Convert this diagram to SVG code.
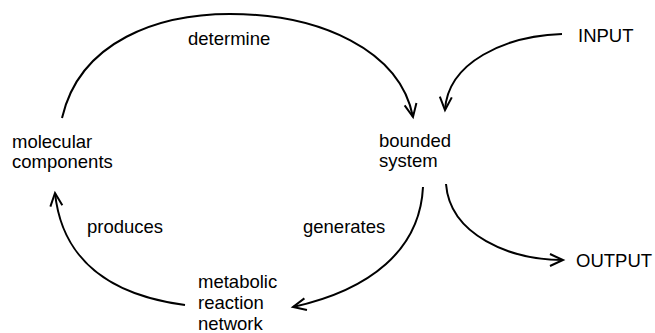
<svg xmlns="http://www.w3.org/2000/svg" width="655" height="333" viewBox="0 0 655 333">
<style>
text{font-family:"Liberation Sans",Arial,sans-serif;font-size:18.5px;fill:#000}
.c{fill:none;stroke:#000;stroke-width:2;marker-end:url(#ah)}
</style>
<defs>
<marker id="ah" markerUnits="userSpaceOnUse" markerWidth="30" markerHeight="30" viewBox="-15 -15 30 30" refX="0" refY="0" orient="auto">
<path d="M-13,-6 L0,0 L-13,6" fill="none" stroke="#000" stroke-width="2"/>
</marker>
</defs>
<rect width="655" height="333" fill="#fff"/>
<g id="connectors">
<path class="c" d="M62,118 C80,40 160,14 230,14 C320,14 400,50 413,117"/>
<path class="c" d="M562,34 C505,36 448,62 445,110"/>
<path class="c" d="M423,187 C420,250 370,290 293,307"/>
<path class="c" d="M185,305 C110,295 62,260 55,193"/>
<path class="c" d="M446,184 C450,235 510,260 563,260"/>
</g>
<g id="labels">
<text x="188" y="45">determine</text>
<text x="87" y="233">produces</text>
<text x="303" y="233">generates</text>
</g>
<g id="molecular-components"><text x="12" y="148">molecular</text><text x="12" y="168">components</text></g>
<g id="bounded-system"><text x="379" y="147">bounded</text><text x="379" y="167">system</text></g>
<g id="metabolic-network"><text x="198" y="288">metabolic</text><text x="198" y="309">reaction</text><text x="198" y="330">network</text></g>
<g id="input"><text x="578" y="42">INPUT</text></g>
<g id="output"><text x="576" y="267">OUTPUT</text></g>
</svg>
